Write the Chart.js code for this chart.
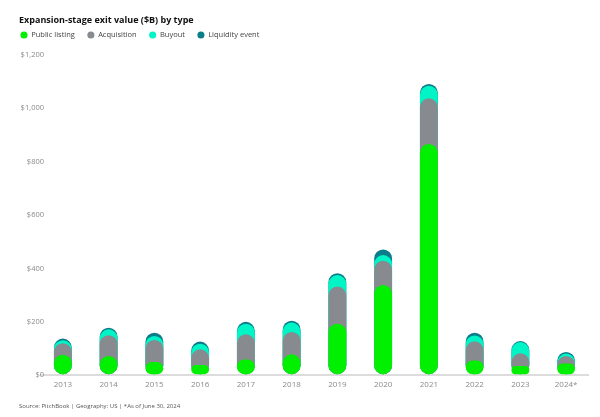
<!DOCTYPE html>
<html>
<head>
<meta charset="utf-8">
<script src="https://cdn.jsdelivr.net/npm/chart.js@4"></script>
<style>
html,body{margin:0;padding:0;background:#fff;}
#wrap{width:600px;height:417px;}
</style>
</head>
<body>
<div id="wrap"><canvas id="c" width="600" height="417"></canvas></div>
<script>
const categories = ["2013","2014","2015","2016","2017","2018","2019","2020","2021","2022","2023","2024*"];
const publicListing = [77, 72, 49, 38, 59, 78, 193, 338, 866, 55, 34, 44];
const acquisition   = [43, 78, 83, 59, 94, 84, 139, 91, 171, 72, 48, 28];
const buyout        = [11, 22, 15, 21, 40, 35, 43, 21, 47, 22, 42, 9];
const liquidity     = [6, 6, 12, 8, 7, 7, 7, 21, 7, 10, 4, 6];
const yTicks = [0, 200, 400, 600, 800, 1000, 1200];

const seriesNames = ["Public listing","Acquisition","Buyout","Liquidity event"];
const seriesColors = ["#00f000","#878b8f","#00f5c6","#0b7d8a"];
const series = [publicListing, acquisition, buyout, liquidity];

// cumulative totals so each type is drawn as an overlapping pill from zero
const cumulative = series.map((s, i) => s.map((v, j) => {
  let t = 0; for (let k = 0; k <= i; k++) t += series[k][j]; return t;
}));

const datasets = series.map((s, i) => ({
  label: seriesNames[i],
  data: cumulative[i],
  backgroundColor: seriesColors[i],
  borderWidth: 0,
  borderRadius: 20,
  borderSkipped: false,
  grouped: false,
  categoryPercentage: 1,
  barPercentage: 0.39
}));

const LEGEND_PAD = 12.5;
const legendShift = {
  id: 'legendShift',
  afterLayout(chart) {
    if (chart.legend) {
      chart.legend.left -= (LEGEND_PAD - 1.5);
      chart.legend.top -= 6;
    }
  }
};

new Chart(document.getElementById('c'), {
  type: 'bar',
  data: { labels: categories, datasets },
  plugins: [legendShift],
  options: {
    responsive: false,
    animation: false,
    devicePixelRatio: 1,
    layout: { padding: { left: 19, right: 11, top: 0, bottom: 0 } },
    plugins: {
      tooltip: { enabled: false },
      title: {
        display: true,
        text: 'Expansion-stage exit value ($B) by type',
        align: 'start',
        color: '#111',
        font: { family: 'Open Sans', size: 9, weight: 'bold' },
        padding: { top: 14.6, bottom: -0.6 }
      },
      legend: {
        display: true,
        align: 'start',
        labels: {
          usePointStyle: true,
          pointStyle: 'circle',
          boxWidth: 7,
          boxHeight: 5,
          padding: LEGEND_PAD,
          color: '#444',
          font: { family: 'Open Sans', size: 7.5 }
        }
      },
      subtitle: {
        display: true,
        position: 'bottom',
        align: 'start',
        text: 'Source: PitchBook | Geography: US | *As of June 30, 2024',
        color: '#555',
        font: { family: 'Open Sans', size: 6 },
        padding: { top: 8, bottom: 7 }
      }
    },
    scales: {
      x: {
        grid: { display: false, drawTicks: false },
        border: { display: false },
        ticks: { color: '#8a8a8a', font: { family: 'Open Sans', size: 8 }, padding: 5 }
      },
      y: {
        min: 0,
        max: 1200,
        afterBuildTicks: (scale) => { scale.ticks = yTicks.map(v => ({ value: v })); },
        afterFit: (scale) => {
          scale.width = 21;
          scale._computeLabelArea = () => undefined; // let labels overhang the narrow axis box
        },
        grid: {
          drawTicks: false,
          color: (ctx) => ctx.tick && ctx.tick.value === 0 ? '#dcdcdc' : 'rgba(0,0,0,0)',
          lineWidth: (ctx) => ctx.tick && ctx.tick.value === 0 ? 2 : 0
        },
        border: { display: false },
        ticks: {
          color: '#8a8a8a',
          font: { family: 'Open Sans', size: 7.5 },
          padding: -4,
          callback: (v) => '$' + Number(v).toLocaleString('en-US')
        }
      }
    }
  }
});
</script>
</body>
</html>
